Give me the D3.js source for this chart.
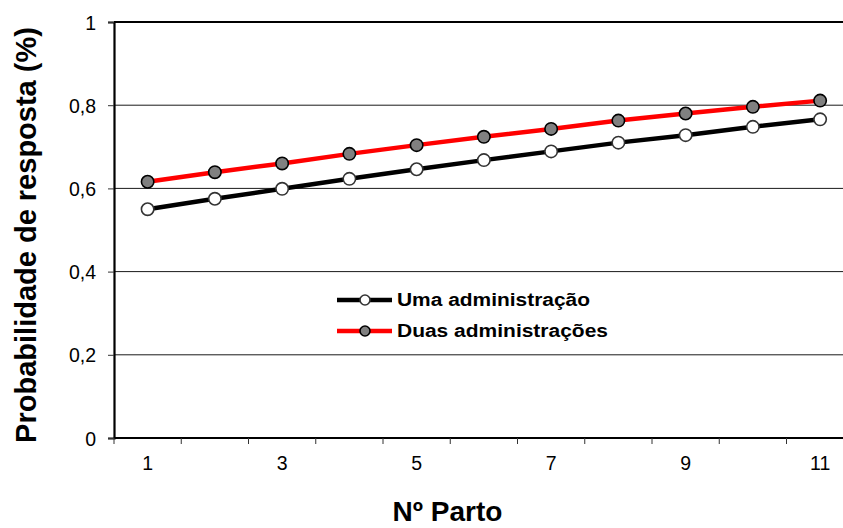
<!DOCTYPE html>
<html>
<head>
<meta charset="utf-8">
<script src="https://cdn.jsdelivr.net/npm/d3@7"></script>
<style>
  html, body { margin: 0; padding: 0; background: #fff; }
  svg { display: block; font-family: "Liberation Sans", Arial, sans-serif; }
</style>
</head>
<body>
<svg id="chart" width="843" height="528"></svg>
<script>
// Nº de parto (eixo X)
const partos = [1, 2, 3, 4, 5, 6, 7, 8, 9, 10, 11];
// Probabilidade de resposta por número de administrações
const umaAdministracao   = [0.550, 0.575, 0.599, 0.623, 0.646, 0.668, 0.689, 0.710, 0.728, 0.748, 0.766];
const duasAdministracoes = [0.616, 0.639, 0.660, 0.683, 0.704, 0.724, 0.743, 0.763, 0.780, 0.796, 0.811];
const yTicks = [0, 0.2, 0.4, 0.6, 0.8, 1];
const xLabels = [1, 3, 5, 7, 9, 11];

const series = [
  { name: "Uma administração",   values: umaAdministracao,   line: "#000000", fill: "#ffffff", stroke: "#333333", textLen: 193 },
  { name: "Duas administrações", values: duasAdministracoes, line: "#ff0000", fill: "#808080", stroke: "#000000", textLen: 211 }
];

const svg = d3.select("#chart");
const plotLeft = 114, plotTop = 22, plotBottom = 438;
const step = 67.25;

const x = d3.scaleBand().domain(partos).range([plotLeft, plotLeft + step * partos.length]).padding(0);
const y = d3.scaleLinear().domain([0, 1]).range([plotBottom, plotTop]);
const cx = d => x(d) + x.bandwidth() / 2;

const locale = d3.formatLocale({ decimal: ",", thousands: ".", grouping: [3], currency: ["", ""] });
const fmt = v => v === 0 || v === 1 ? String(v) : locale.format(".1f")(v);

// horizontal gridlines
svg.append("g")
  .selectAll("line")
  .data(yTicks.filter(v => v > 0 && v < 1))
  .join("line")
  .attr("x1", plotLeft).attr("x2", 843)
  .attr("y1", d => y(d)).attr("y2", d => y(d))
  .attr("stroke", "#1a1a1a").attr("stroke-width", 1);

// top frame line
svg.append("line")
  .attr("x1", plotLeft).attr("x2", 843)
  .attr("y1", y(1)).attr("y2", y(1))
  .attr("stroke", "#000").attr("stroke-width", 2.2);

// Y axis
const yAxis = svg.append("g")
  .attr("transform", `translate(${plotLeft},0)`)
  .call(d3.axisLeft(y).tickValues(yTicks).tickFormat(fmt).tickSize(6).tickPadding(12));
yAxis.select(".domain").attr("stroke", "#000").attr("stroke-width", 2.2);
yAxis.selectAll(".tick line").attr("stroke", "#333").attr("stroke-width", 1);
yAxis.selectAll(".tick text")
  .attr("font-size", 19.5).attr("fill", "#000")
  .attr("font-family", "'Liberation Sans', Arial, sans-serif")
  .attr("dy", "0.36em");

// X axis: labels centered on categories, ticks on category boundaries
const xAxis = svg.append("g")
  .attr("transform", `translate(0,${plotBottom})`)
  .call(d3.axisBottom(x).tickValues(xLabels).tickSize(0).tickPadding(18));
xAxis.select(".domain").remove();
xAxis.selectAll(".tick text")
  .attr("font-size", 19.5).attr("fill", "#000")
  .attr("font-family", "'Liberation Sans', Arial, sans-serif");

svg.append("line")
  .attr("x1", plotLeft).attr("x2", 843)
  .attr("y1", plotBottom).attr("y2", plotBottom)
  .attr("stroke", "#000").attr("stroke-width", 2.2);

svg.append("g")
  .selectAll("line")
  .data(partos)
  .join("line")
  .attr("x1", d => x(d)).attr("x2", d => x(d))
  .attr("y1", plotBottom).attr("y2", plotBottom + 6)
  .attr("stroke", "#333").attr("stroke-width", 1);

// series lines and markers
const line = d3.line().x((d, i) => cx(partos[i])).y(d => y(d));
series.forEach(s => {
  svg.append("path")
    .datum(s.values)
    .attr("fill", "none")
    .attr("stroke", s.line)
    .attr("stroke-width", 4.5)
    .attr("d", line);
});
series.forEach(s => {
  svg.append("g")
    .selectAll("circle")
    .data(s.values)
    .join("circle")
    .attr("cx", (d, i) => cx(partos[i]))
    .attr("cy", d => y(d))
    .attr("r", 6.2)
    .attr("fill", s.fill)
    .attr("stroke", s.stroke)
    .attr("stroke-width", 1.6);
});

// legend
const legend = svg.append("g").attr("transform", "translate(337,300)");
series.forEach((s, i) => {
  const g = legend.append("g").attr("transform", `translate(0,${i * 31})`);
  g.append("line").attr("x1", 0).attr("x2", 55).attr("y1", 0).attr("y2", 0)
    .attr("stroke", s.line).attr("stroke-width", 4.5);
  g.append("circle").attr("cx", 28).attr("cy", 0).attr("r", 5)
    .attr("fill", s.fill).attr("stroke", s.stroke).attr("stroke-width", 1.6);
  g.append("text").attr("x", 60).attr("y", 0).attr("dy", "0.36em")
    .attr("font-size", 18).attr("font-weight", "bold").attr("fill", "#000")
    .attr("textLength", s.textLen).attr("lengthAdjust", "spacingAndGlyphs")
    .text(s.name);
});

// axis titles
svg.append("text")
  .attr("transform", `translate(36,235) rotate(-90)`)
  .attr("text-anchor", "middle")
  .attr("font-size", 29).attr("font-weight", "bold").attr("fill", "#000")
  .text("Probabilidade de resposta (%)");

svg.append("text")
  .attr("x", 447.5).attr("y", 521)
  .attr("text-anchor", "middle")
  .attr("font-size", 28).attr("font-weight", "bold").attr("fill", "#000")
  .text("Nº Parto");
</script>
</body>
</html>
